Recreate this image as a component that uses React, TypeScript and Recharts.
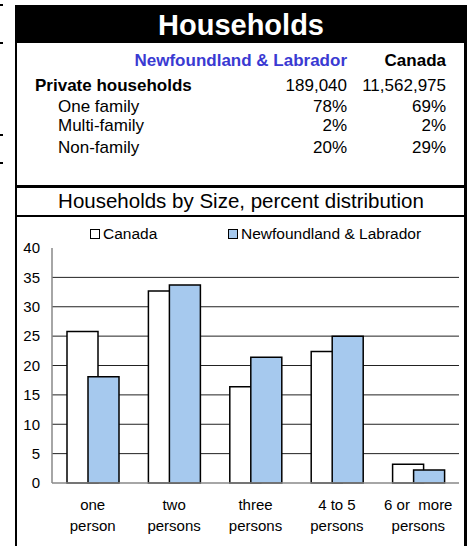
import { BarChart, Bar, XAxis, YAxis, CartesianGrid, Legend } from 'recharts';

const FONT = '"Liberation Sans", Arial, sans-serif';

// summary table
const ROW_LABELS = ['Private households', 'One family', 'Multi-family', 'Non-family'];
const NL_TABLE = ['189,040', '78%', '2%', '20%'];
const CANADA_TABLE = ['11,562,975', '69%', '2%', '29%'];

// chart data
const CATEGORIES = ['one\nperson', 'two\npersons', 'three\npersons', '4 to 5\npersons', '6 or  more\npersons'];
const CANADA = [25.8, 32.7, 16.4, 22.4, 3.2];
const NEWFOUNDLAND = [18.1, 33.7, 21.4, 25.0, 2.2];
const Y_TICKS = [0, 5, 10, 15, 20, 25, 30, 35, 40];
const GRID_VALUES = [5, 10, 15, 20, 25, 30, 35];

const data = CATEGORIES.map((name, i) => ({ name, canada: CANADA[i], nl: NEWFOUNDLAND[i] }));

const ROW_Y = [86, 107, 126, 148];

function CategoryTick({ x, y, payload }: any) {
  const [a, b] = String(payload.value).split('\n');
  return (
    <text x={x} y={y} textAnchor="middle" fontFamily={FONT} fontSize={15} fill="#000" style={{ whiteSpace: 'pre' }}>
      <tspan x={x} dy={19}>{a}</tspan>
      <tspan x={x} dy={20.5}>{b}</tspan>
    </text>
  );
}

function LegendContent() {
  const items = [
    { label: 'Canada', fill: '#fff', left: 75 },
    { label: 'Newfoundland & Labrador', fill: '#a6c9ee', left: 213 },
  ];
  return (
    <div style={{ position: 'relative', height: 20, fontFamily: FONT, fontSize: 15.5 }}>
      {items.map((it) => (
        <div key={it.label} style={{ position: 'absolute', left: it.left, top: 0, display: 'flex', alignItems: 'center', whiteSpace: 'nowrap' }}>
          <span style={{ width: 8, height: 8, border: '1px solid #000', background: it.fill, marginRight: 3 }} />
          <span>{it.label}</span>
        </div>
      ))}
    </div>
  );
}

export default function App() {
  return (
    <div style={{ position: 'absolute', left: 0, top: 0, width: 471, height: 546, background: '#fff', overflow: 'hidden', fontFamily: FONT }}>
      {/* crop marks on the left edge */}
      {[5, 43, 135, 163].map((y) => (
        <div key={y} style={{ position: 'absolute', left: 0, top: y - 1, width: 3, height: 2, background: '#000' }} />
      ))}

      {/* title band */}
      <div style={{ position: 'absolute', left: 15, top: 5, width: 452, height: 38, background: '#000', color: '#fff', fontWeight: 'bold', fontSize: 29, textAlign: 'center', lineHeight: '40px' }}>
        Households
      </div>

      {/* table */}
      <div style={{ position: 'absolute', right: 124, top: 61, transform: 'translateY(-50%)', fontWeight: 'bold', fontSize: 17, color: '#3a3ad2', whiteSpace: 'nowrap' }}>
        Newfoundland &amp; Labrador
      </div>
      <div style={{ position: 'absolute', right: 25, top: 61, transform: 'translateY(-50%)', fontWeight: 'bold', fontSize: 17, color: '#000' }}>
        Canada
      </div>
      {ROW_LABELS.map((label, i) => (
        <div key={label}>
          <div style={{ position: 'absolute', left: i === 0 ? 35 : 58, top: ROW_Y[i], transform: 'translateY(-50%)', fontSize: 17, fontWeight: i === 0 ? 'bold' : 'normal', whiteSpace: 'nowrap' }}>
            {label}
          </div>
          <div style={{ position: 'absolute', right: 124, top: ROW_Y[i], transform: 'translateY(-50%)', fontSize: 17 }}>{NL_TABLE[i]}</div>
          <div style={{ position: 'absolute', right: 25, top: ROW_Y[i], transform: 'translateY(-50%)', fontSize: 17 }}>{CANADA_TABLE[i]}</div>
        </div>
      ))}

      {/* chart title */}
      <div style={{ position: 'absolute', left: 15, top: 188, width: 452, height: 28, textAlign: 'center', fontSize: 20.5, lineHeight: '26px' }}>
        Households by Size, percent distribution
      </div>

      {/* chart */}
      <div style={{ position: 'absolute', left: 15, top: 216 }}>
        <BarChart width={452} height={330} data={data} margin={{ top: 32, right: 8, bottom: 0, left: 0 }} barSize={31} barGap={-10}>
          <CartesianGrid horizontal vertical={false} horizontalValues={GRID_VALUES} stroke="#222" strokeWidth={1} />
          <XAxis dataKey="name" height={63} interval={0} tickLine={false} axisLine={{ stroke: '#888', strokeWidth: 1.5 }} tick={<CategoryTick />} />
          <YAxis width={37} domain={[0, 40]} ticks={Y_TICKS} interval={0} tickLine={false} tickMargin={6} axisLine={{ stroke: '#888', strokeWidth: 1.5 }} tick={{ fontFamily: FONT, fontSize: 15, fill: '#000' }} />
          <Legend layout="horizontal" verticalAlign="middle" align="center" wrapperStyle={{ top: 9, left: 0, width: 452 }} content={<LegendContent />} />
          <Bar dataKey="canada" name="Canada" fill="#fff" stroke="#000" strokeWidth={1.5} isAnimationActive={false} />
          <Bar dataKey="nl" name="Newfoundland & Labrador" fill="#a6c9ee" stroke="#000" strokeWidth={1.5} isAnimationActive={false} />
        </BarChart>
      </div>

      {/* frame */}
      <div style={{ position: 'absolute', left: 15, top: 43, width: 2, height: 503, background: '#000' }} />
      <div style={{ position: 'absolute', left: 464, top: 5, width: 3, height: 541, background: '#000' }} />
      <div style={{ position: 'absolute', left: 15, top: 185, width: 452, height: 3, background: '#000' }} />
      <div style={{ position: 'absolute', left: 15, top: 215, width: 452, height: 2, background: '#000' }} />
    </div>
  );
}
